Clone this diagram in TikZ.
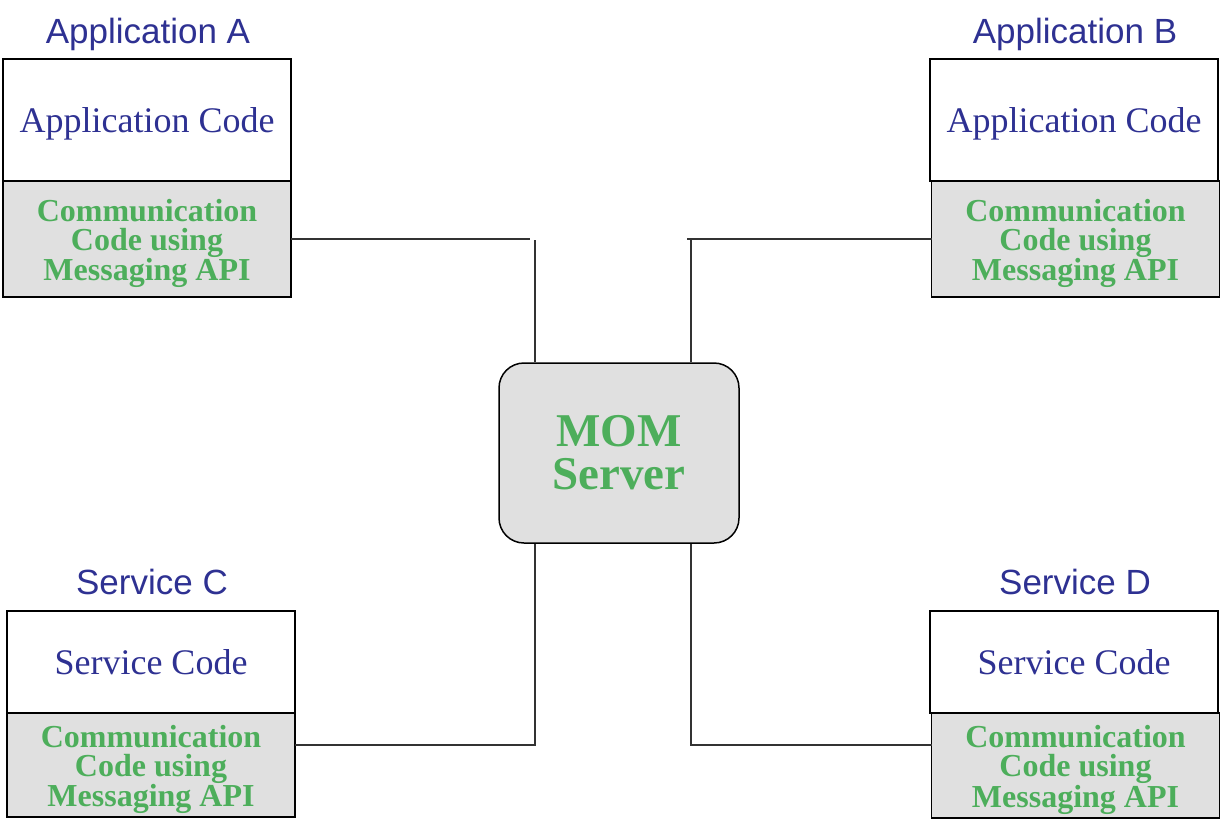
\documentclass[tikz,border=0pt]{standalone}
\usepackage{fontspec}
\setmainfont{Liberation Serif}
\setsansfont{Liberation Sans}
\usetikzlibrary{positioning}
\definecolor{titleblue}{HTML}{2E3192}
\definecolor{msggreen}{HTML}{4DAE5B}
\definecolor{boxgray}{HTML}{E0E0E0}
\newcommand{\firstline}{\rule{0pt}{31pt}}
\tikzset{
  codebox/.style = { draw, line width = 1.5pt, outer sep = 0pt, inner sep = 0pt, minimum width = 288pt,
                     text height = 30pt, text depth = 6pt,
                     align = center, text = titleblue, font = \fontsize{36}{40}\selectfont },
  commbox/.style = { draw, line width = 1.5pt, outer sep = 0pt, inner sep = 0pt, minimum width = 288pt,
                     fill = boxgray, align = center, text = msggreen, font = \fontsize{32}{29}\selectfont\bfseries },
  apptitle/.style = { anchor = base, inner sep = 0pt, text = titleblue, font = \sffamily\fontsize{35}{40}\selectfont },
  link/.style = { line width = 1.2pt, draw = black!80 }
}
\begin{document}
\begin{tikzpicture}[x = 1pt, y = -1pt]
    \useasboundingbox (0,0) rectangle (1222,822);

    \node [apptitle] (titleA) at (148,43) {Application A};
    \node [codebox, minimum height = 122pt] (codeA) at (147,120) {Application Code};
    \node [commbox, minimum height = 116pt, below = 0pt of codeA] (commA) {\firstline Communication\\Code using\\Messaging API};

    \node [apptitle] (titleB) at (1075,43) {Application B};
    \node [codebox, minimum height = 122pt] (codeB) at (1074,120) {Application Code};
    \node [commbox, minimum height = 116pt, below = 0pt of codeB, xshift = 1.5pt] (commB) {\firstline Communication\\Code using\\Messaging API};

    \node [apptitle] (titleC) at (152,594) {Service C};
    \node [codebox, minimum height = 102pt] (codeC) at (151,662) {Service Code};
    \node [commbox, minimum height = 104pt, below = 0pt of codeC] (commC) {\firstline Communication\\Code using\\Messaging API};

    \node [apptitle] (titleD) at (1075,594) {Service D};
    \node [codebox, minimum height = 102pt] (codeD) at (1074,662) {Service Code};
    \node [commbox, minimum height = 105pt, below = 0pt of codeD, xshift = 1.5pt] (commD) {\firstline Communication\\Code using\\Messaging API};

    \node [draw, line width = 1.5pt, rounded corners = 25pt, fill = boxgray, minimum width = 240pt, minimum height = 180pt,
           align = center, text = msggreen, font = \fontsize{47}{43}\selectfont\bfseries] (mom) at (619,453) {MOM\\Server};

    \coordinate (kneeA) at (530,239);
    \coordinate (dropA) at (535,240);
    \coordinate (kneeB) at (687,239);
    \coordinate (dropB) at (691,239);
    \coordinate (kneeC) at (535,745);
    \coordinate (kneeD) at (691,745);

    \draw [link] (commA.east) -- (kneeA);
    \draw [link] (dropA) -- (dropA |- mom.north);
    \draw [link] (kneeB) -- (commB.west);
    \draw [link] (dropB) -- (dropB |- mom.north);
    \draw [link] (kneeC |- mom.south) -- (kneeC) -- (commC.east |- kneeC);
    \draw [link] (kneeD |- mom.south) -- (kneeD) -- (commD.west |- kneeD);
\end{tikzpicture}
\end{document}
